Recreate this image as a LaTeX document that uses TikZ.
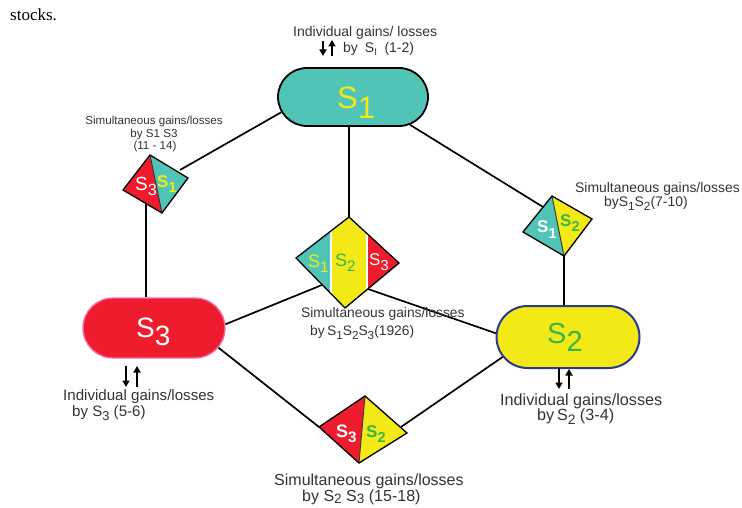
\documentclass[tikz,border=0pt]{standalone}
\usepackage{fontspec}
\usepackage{graphicx}
\setmainfont{Liberation Sans}
\newfontfamily\serifont{Liberation Serif}
\usetikzlibrary{shapes.misc,arrows.meta}
\definecolor{tealc}{HTML}{50C4B7}
\definecolor{redc}{HTML}{EE1C2D}
\definecolor{yelc}{HTML}{F3E917}
\definecolor{grnc}{HTML}{3AB54A}
\definecolor{navyc}{HTML}{2B3A8F}
\definecolor{pinkc}{HTML}{F06EAA}
\definecolor{txtc}{HTML}{333333}
\newcommand\lsub[1]{\raisebox{-0.3em}{\scalebox{0.85}{#1}}}
\newcommand\ssub[1]{\raisebox{-0.16em}{\scalebox{0.85}{#1}}}
\newcommand\bsub[1]{\raisebox{-0.3em}{\scalebox{1.0}{#1}}}
\newcommand\fs[1]{\fontsize{#1}{#1}\selectfont}
\begin{document}
\begin{tikzpicture}[x=1pt,y=-1pt,
  pill/.style={rounded rectangle, line width=1.8pt, inner sep=0pt},
  link/.style={line width=1.7pt, black},
  dia/.style={line width=1.3pt, black, line join=miter},
  split/.style={line width=0.9pt, black!80},
  lab/.style={text=txtc, inner sep=0pt, anchor=base west},
  sym/.style={inner sep=0pt, anchor=base west},
  updown/.style={line width=2.3pt, -{Triangle[width=7pt,length=6.5pt]}}
]
\useasboundingbox (0,0) rectangle (742,508);
% ---- diamond vertices
\coordinate (Lt) at (150,155); \coordinate (Lr) at (188,178);
\coordinate (Lb) at (162,213); \coordinate (Ll) at (123,190);
\coordinate (Ct) at (349,217); \coordinate (Cr) at (399,263);
\coordinate (Cb) at (345,308); \coordinate (Cl) at (296,258);
\coordinate (Rt) at (552,196); \coordinate (Rr) at (592,219);
\coordinate (Rb) at (564,256); \coordinate (Rl) at (523,232);
\coordinate (Bt) at (365,396); \coordinate (Br) at (407,433);
\coordinate (Bb) at (359,463); \coordinate (Bl) at (319,427);
% connector ends on diamonds
\coordinate (LA) at (180,170);
\coordinate (LB) at (146,204);
\coordinate (CL) at (322,285);
\coordinate (CR) at (368,289);
\coordinate (RA) at (543,207);
\coordinate (BR) at (401,427);

% ---- pills
\node[pill, draw=black, fill=tealc, minimum width=150pt, minimum height=58pt] (S1) at (353,97) {};
\node[pill, draw=pinkc, line width=1.4pt, fill=redc, minimum width=142pt, minimum height=60pt] (S3) at (154,328) {};
\node[pill, draw=navyc, line width=2pt, fill=yelc, minimum width=143pt, minimum height=62pt] (S2) at (568,337) {};

% ---- connectors
\draw[link] (S1.192) -- (LA);
\draw[link] (LB) -- (LB |- S3.north);
\draw[link] (Ct) -- (Ct |- S1.south);
\draw[link] (CL) -- (S3.3);
\draw[link] (CR) -- (S2.177);
\draw[link] (S1.334) -- (RA);
\draw[link] (Rb) -- (Rb |- S2.north);
\draw[link] (S3.343) -- (Bl);
\draw[link] (S2.197) -- (BR);

% ---- left diamond (S3 | S1)
\fill[redc] (Lt) -- (Ll) -- (Lb) -- cycle;
\fill[tealc] (Lt) -- (Lr) -- (Lb) -- cycle;
\draw[split] (Lt) -- (Lb);
\draw[dia] (Lt) -- (Lr) -- (Lb) -- (Ll) -- cycle;
\node[sym, text=white, font=\fs{19}] (L3) at (135,190) {S\lsub{3}};
\node[sym, text=yelc, font=\fs{17}\bfseries] (L1) at (157,187) {S\lsub{1}};

% ---- central diamond (S1 | S2 | S3)
\begin{scope}
  \clip (Ct) -- (Cr) -- (Cb) -- (Cl) -- cycle;
  \fill[tealc] (290,210) rectangle (331,315);
  \fill[yelc] (331,210) rectangle (367,315);
  \fill[redc] (367,210) rectangle (405,315);
  \draw[white, line width=2pt] (331,210) -- (331,315);
  \draw[white, line width=2pt] (367,210) -- (367,315);
\end{scope}
\draw[dia] (Ct) -- (Cr) -- (Cb) -- (Cl) -- cycle;
\node[sym, text=yelc, font=\fs{18}] (C1) at (308,267) {S\lsub{1}};
\node[sym, text=grnc, font=\fs{18}] (C2) at (335,266) {S\lsub{2}};
\node[sym, text=white, font=\fs{17}] (C3) at (369,265) {S\lsub{3}};

% ---- right diamond (S1 | S2)
\fill[tealc] (Rt) -- (Rl) -- (Rb) -- cycle;
\fill[yelc] (Rt) -- (Rr) -- (Rb) -- cycle;
\draw[split] (Rt) -- (Rb);
\draw[dia] (Rt) -- (Rr) -- (Rb) -- (Rl) -- cycle;
\node[sym, text=white, font=\fs{17}\bfseries] (R1) at (537,233) {S\lsub{1}};
\node[sym, text=grnc, font=\fs{17}\bfseries] (R2) at (560,226) {S\lsub{2}};

% ---- bottom diamond (S3 | S2)
\fill[redc] (Bt) -- (Bl) -- (Bb) -- cycle;
\fill[yelc] (Bt) -- (Br) -- (Bb) -- cycle;
\draw[split] (Bt) -- (Bb);
\draw[dia] (Bt) -- (Br) -- (Bb) -- (Bl) -- cycle;
\node[sym, text=white, font=\fs{18}\bfseries] (B3) at (336,437) {S\lsub{3}};
\node[sym, text=grnc, font=\fs{17}\bfseries] (B2) at (366,437) {S\lsub{2}};

% ---- pill labels
\node[sym, text=yelc, font=\fs{31}] (S1l) at (337,109) {S\bsub{1}};
\node[sym, text=white, font=\fs{28}] (S3l) at (136,337) {S\bsub{3}};
\node[sym, text=grnc, font=\fs{29}] (S2l) at (547,343) {S\bsub{2}};

% ---- up/down arrow pairs
\draw[updown] (323,41) -- (323,56);
\draw[updown] (332,56) -- (332,40);
\draw[updown] (126,366) -- (126,387);
\draw[updown] (137,387) -- (137,366);
\draw[updown] (559,368) -- (559,389);
\draw[updown] (569,389) -- (569,369);

% ---- texts
\node[text=black, inner sep=0pt, anchor=base west, font=\serifont\fs{17}] (stk) at (10,21) {stocks.};

\node[lab, font=\fs{14}] (t1a) at (293,37) {Individual gains/ losses};
\node[lab, font=\fs{14}] (t1b) at (343,53) {by\enspace S\textsubscript{I}\enspace(1-2)};

\node[lab, anchor=base, font=\fs{11.6}] (t2a) at (154,125) {Simultaneous gains/losses};
\node[lab, anchor=base, font=\fs{11.6}] (t2b) at (154,138) {by S1 S3};
\node[lab, anchor=base, font=\fs{11.6}] (t2c) at (155,150) {(11 - 14)};

\node[lab, font=\fs{13.8}] (t3a) at (301,317) {Simultaneous gains/losses};
\node[lab, font=\fs{13.8}] (t3b) at (310,335) {by\,S\lsub{1}S\lsub{2}S\lsub{3}(1926)};

\node[lab, font=\fs{13.9}] (t4a) at (575,193) {Simultaneous gains/losses};
\node[lab, font=\fs{13.9}] (t4b) at (604,206) {byS\lsub{1}S\lsub{2}(7-10)};

\node[lab, font=\fs{15.1}] (t5a) at (63,400) {Individual gains/losses};
\node[lab, font=\fs{15.1}] (t5b) at (72,416) {by S\lsub{3} (5-6)};

\node[lab, font=\fs{16.2}] (t6a) at (500,405) {Individual gains/losses};
\node[lab, font=\fs{16.2}] (t6b) at (537,420) {by\,S\lsub{2} (3-4)};

\node[lab, font=\fs{16}] (t7a) at (274,485.5) {Simultaneous gains/losses};
\node[lab, font=\fs{16}] (t7b) at (302,501) {by S\ssub{2} S\ssub{3} (15-18)};
\end{tikzpicture}
\end{document}
